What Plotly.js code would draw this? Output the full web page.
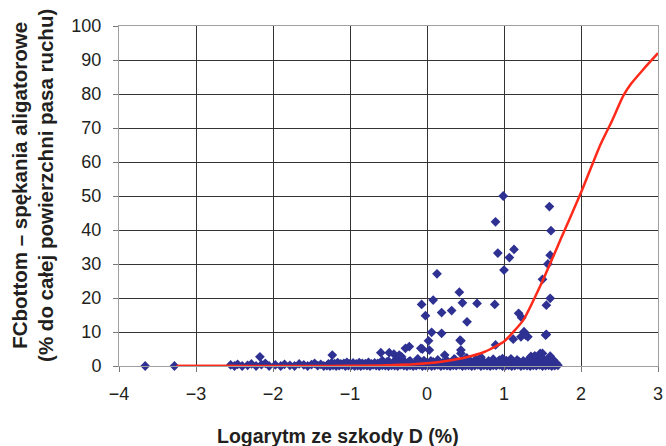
<!DOCTYPE html>
<html>
<head>
<meta charset="utf-8">
<script src="https://cdn.plot.ly/plotly-3.0.1.min.js"></script>
<style>html,body{margin:0;padding:0;background:#fff}#chart{width:666px;height:446px}</style>
</head>
<body>
<div id="chart"></div>
<script>
// Fitted transfer curve
var curveX = [-3.25,-2.5,-2.0,-1.5,-1.0,-0.5,0.0,0.25,0.5,0.75,1.0,1.25,1.5,1.75,2.0,2.25,2.4,2.55,2.65,2.8,3.0];
var curveY = [0,0,0,0.02,0.06,0.2,0.8,1.5,2.5,4.2,7.2,13.5,25,38,51,65,72,79.5,83,87,92];

// Scattered (raised) observations
var highX = [0.89,0.92,0.13,0.99,1.59,1.61,1.13,1.07,1.60,1.57,1.00,1.50,0.42,0.08,-0.07,0.46,0.65,0.88,-0.02,0.19,0.32,0.52,0.06,0.19,0.02,0.44,-0.06,0.03,0.44,0.44,0.89,0.23,0.51,-0.23,1.60,1.55,1.19,1.23,1.26,1.22,1.31,1.12,1.55,1.47,1.60,1.56,1.45,-1.23,-0.60,-0.49,-0.43,-0.33,-2.17,-0.28,-0.36,-0.08,0.43,0.52,1.28,1.54,1.50,0.36,0.70,0.98,1.35,1.40];
var highY = [42.4,33.2,27.1,50.0,46.9,39.8,34.3,31.9,32.6,30.0,28.2,25.5,21.7,19.4,18.1,18.6,18.4,18.1,14.8,15.7,16.3,13.0,9.9,9.6,7.4,7.4,5.0,4.7,4.7,3.7,6.2,3.2,2.3,5.7,19.9,17.9,15.5,14.2,10.1,8.6,8.6,7.9,9.3,3.7,2.9,1.8,2.3,3.2,3.9,3.9,3.5,2.7,2.7,5.2,3.2,5.2,7.6,2.3,9.1,9.1,3.7,2.0,2.6,2.2,2.8,3.0];

// Sparse low observations on the left
var lowLeftX = [-3.66,-3.28,-2.55,-2.50,-2.46,-2.40,-2.33,-2.28,-2.22,-2.15,-2.10,-2.05,-1.97,-1.90,-1.85,-1.78,-1.72,-1.66,-1.60,-1.55,-1.50,-1.46,-1.42,-1.38,-1.34];
var lowLeftY = [0,0,0.3,0,0.5,0,0.2,0.6,0,0.4,0.8,0,0.3,0,0.5,0.2,0,0.6,0.3,0,0.4,0.8,0.1,0.5,0];

// Dense band of near-zero observations
var bandAX = [-1.30,-1.26,-1.22,-1.18,-1.14,-1.10,-1.06,-1.02,-0.98,-0.94,-0.90,-0.86,-0.82,-0.78,-0.74,-0.70,-0.66,-0.62,-0.58,-0.54,-0.50,-0.46,-0.42,-0.38,-0.34,-0.30,-0.26,-0.22,-0.18,-0.14,-0.10,-0.06,-0.02,0.02,0.06,0.10,0.14,0.18,0.22,0.26,0.30,0.34,0.38,0.42,0.46,0.50,0.54,0.58,0.62,0.66,0.70,0.74,0.78,0.82,0.86,0.90,0.94,0.98,1.02,1.06,1.10,1.14,1.18,1.22,1.26,1.30,1.34,1.38,1.42,1.46,1.50,1.54,1.58,1.62,1.66,1.70];
var bandAY = [0.1,0,0.2,0,0.1,0.3,0,0.1,0.2,0,0.1,0,0.2,0.1,0,0.3,0.1,0,0.2,0.1,0,0.2,0.1,0,0.3,0.1,0,0.2,0,0.1,0.3,0,0.1,0.2,0,0.1,0.3,0,0.2,0.1,0,0.2,0.1,0.3,0,0.1,0.2,0,0.1,0.3,0,0.2,0.1,0,0.2,0.1,0.3,0,0.1,0.2,0,0.1,0.3,0,0.2,0.1,0,0.2,0.1,0.3,0,0.1,0.2,0,0.1,0.2];
var bandBX = [-1.28,-1.24,-1.20,-1.16,-1.12,-1.08,-1.04,-1.00,-0.96,-0.92,-0.88,-0.84,-0.80,-0.76,-0.72,-0.68,-0.64,-0.60,-0.56,-0.52,-0.48,-0.44,-0.40,-0.36,-0.32,-0.28,-0.24,-0.20,-0.16,-0.12,-0.08,-0.04,0.00,0.04,0.08,0.12,0.16,0.20,0.24,0.28,0.32,0.36,0.40,0.44,0.48,0.52,0.56,0.60,0.64,0.68,0.72,0.76,0.80,0.84,0.88,0.92,0.96,1.00,1.04,1.08,1.12,1.16,1.20,1.24,1.28,1.32,1.36,1.40,1.44,1.48,1.52,1.56,1.60,1.64,1.68];
var bandBY = [0.6,0.9,0.7,1.0,0.6,0.8,1.1,0.7,0.9,0.6,1.0,0.8,0.7,1.1,0.6,0.9,0.8,1.0,0.7,1.2,0.8,0.9,1.1,0.7,1.0,0.8,1.2,0.9,0.7,1.1,0.8,1.0,0.9,0.7,1.2,0.8,1.0,0.9,1.1,0.7,1.0,0.8,1.2,0.9,1.0,0.7,1.1,0.9,0.8,1.2,1.0,0.7,0.9,1.1,0.8,1.2,1.0,0.9,0.7,1.1,1.0,0.8,1.2,0.9,1.0,0.7,1.1,0.9,0.8,1.2,1.0,0.9,0.7,1.1,0.8];
var bandCX = [-0.58,-0.50,-0.40,-0.31,-0.22,-0.12,-0.04,0.05,0.14,0.26,0.35,0.46,0.56,0.63,0.72,0.80,0.86,0.94,1.03,1.09,1.17,1.25,1.33,1.39,1.52,1.58,1.64];
var bandCY = [1.6,1.4,2.0,1.7,1.5,2.1,1.6,1.5,1.8,1.6,2.0,1.7,1.5,1.9,1.6,1.5,2.0,1.7,1.6,2.1,1.8,1.5,2.2,1.7,1.9,1.6,1.8];

// Tick labels and inner grid positions
var xTicks = [-4,-3,-2,-1,0,1,2,3];
var yTicks = [0,10,20,30,40,50,60,70,80,90,100];
var xGrid = [-3,-2,-1,0,1,2];
var yGrid = [10,20,30,40,50,60,70,80,90];

// Titles
var xTitle = 'Logarytm ze szkody D (%)';
var yTitle = 'FCbottom – spękania aligatorowe<br>(% do całej powierzchni pasa ruchu)';

var dotColor = '#2e3192';
function dots(x, y) {
  return {x: x, y: y, type: 'scatter', mode: 'markers', cliponaxis: false, hoverinfo: 'skip',
    marker: {symbol: 'diamond', size: 7.5, color: dotColor, line: {width: 0}}};
}

var traces = [
  dots(lowLeftX, lowLeftY),
  dots(bandAX, bandAY),
  dots(bandBX, bandBY),
  dots(bandCX, bandCY),
  {x: curveX.slice(0, 2), y: curveY.slice(0, 2), type: 'scatter', mode: 'lines', line: {color: '#ff2a1a', width: 2.5}, cliponaxis: false, hoverinfo: 'skip'},
  dots(highX, highY),
  {x: curveX, y: curveY, type: 'scatter', mode: 'lines', line: {color: '#ff2a1a', width: 2.5, shape: 'spline', smoothing: 0.5}, cliponaxis: false, hoverinfo: 'skip'}
];

var fam = '"Liberation Sans", Arial, sans-serif';
var txt = '#231f20';
var layout = {
  width: 666, height: 446,
  margin: {l: 119, r: 8, t: 26, b: 80},
  showlegend: false,
  paper_bgcolor: '#fff', plot_bgcolor: '#fff',
  font: {family: fam, color: txt},
  xaxis: {
    range: [-4, 3], tickmode: 'array', tickvals: xTicks, ticks: 'outside', ticklen: 5, tickcolor: '#777',
    ticklabelstandoff: 6,
    showgrid: false, zeroline: false,
    minor: {tickmode: 'array', tickvals: xGrid, showgrid: true, gridcolor: '#333', gridwidth: 1, ticks: ''},
    showline: true, linecolor: '#a0a0a0', linewidth: 1, mirror: true,
    tickfont: {size: 18, family: fam, color: txt}
  },
  yaxis: {
    range: [0, 100], tickmode: 'array', tickvals: yTicks, ticks: 'outside', ticklen: 5, tickcolor: '#777',
    ticklabelstandoff: 8,
    showgrid: false, zeroline: false,
    minor: {tickmode: 'array', tickvals: yGrid, showgrid: true, gridcolor: '#333', gridwidth: 1, ticks: ''},
    showline: true, linecolor: '#a0a0a0', linewidth: 1, mirror: true,
    tickfont: {size: 18, family: fam, color: txt}
  },
  annotations: [
    {text: '<b>' + xTitle + '</b>', xref: 'paper', yref: 'paper', x: 0.406, y: -0.206,
     xanchor: 'center', yanchor: 'middle', showarrow: false, font: {size: 19.5, family: fam, color: txt}},
    {text: '<b>' + yTitle + '</b>', xref: 'paper', yref: 'paper', x: -0.16, y: 0.532, textangle: -90,
     xanchor: 'center', yanchor: 'middle', showarrow: false, font: {size: 20.5, family: fam, color: txt}}
  ]
};

Plotly.newPlot('chart', traces, layout, {displayModeBar: false, staticPlot: true});
</script>
</body>
</html>
